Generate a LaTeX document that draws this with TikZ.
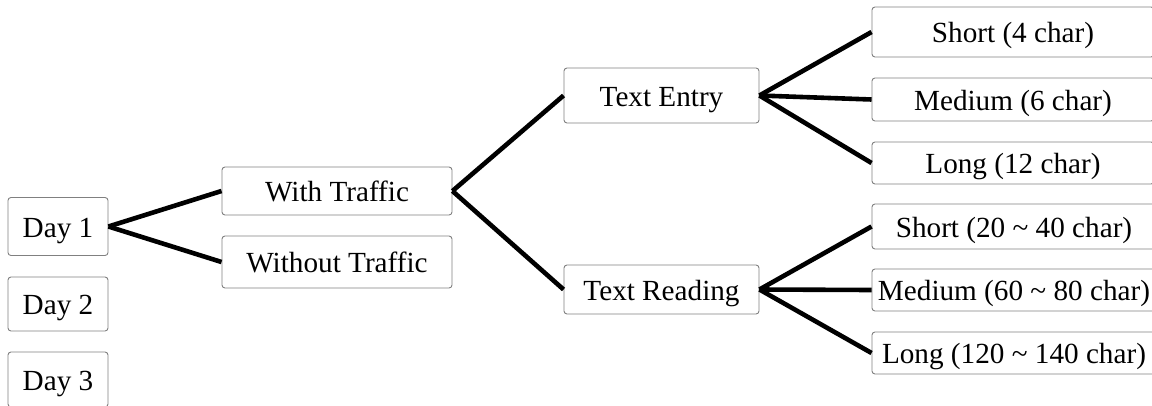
\documentclass[tikz,border=0pt]{standalone}
\usepackage{fontspec}
\setmainfont{Liberation Serif}
\begin{document}
\begin{tikzpicture}[x=1pt,y=-1pt,
  box/.style={draw=black!50, line width=0.9pt, rounded corners=3pt, inner sep=0pt,
    font=\fontsize{29.2}{35}\selectfont, text height=21pt, text depth=0pt, align=center},
  link/.style={line width=4.6pt, black}]
\clip (0,0) rectangle (1152,405);
\node[box, minimum width=100pt, minimum height=58pt] (d1) at (58,226.5) {Day 1};
\node[box, minimum width=100pt, minimum height=54pt] (d2) at (58,304) {Day 2};
\node[box, minimum width=100pt, minimum height=55pt] (d3) at (58,379.5) {Day 3};
\node[box, minimum width=230pt, minimum height=48pt] (wt) at (337,191) {With Traffic};
\node[box, minimum width=230pt, minimum height=52pt] (wo) at (337,262) {Without Traffic};
\node[box, minimum width=195pt, minimum height=55pt] (te) at (661.5,95.5) {Text Entry};
\node[box, minimum width=195pt, minimum height=49pt] (tr) at (661.5,289.5) {Text Reading};
\node[box, minimum width=282pt, minimum height=50pt] (s4) at (1013,32) {Short (4 char)};
\node[box, minimum width=282pt, minimum height=43pt] (m6) at (1013,99.5) {Medium (6 char)};
\node[box, minimum width=282pt, minimum height=42pt] (l12) at (1013,163) {Long (12 char)};
\node[box, minimum width=284pt, minimum height=45pt] (s20) at (1014,226.5) {Short (20 \textasciitilde\ 40 char)};
\node[box, minimum width=284pt, minimum height=42pt] (m60) at (1014,290) {Medium (60 \textasciitilde\ 80 char)};
\node[box, minimum width=284pt, minimum height=42pt] (l120) at (1014,353) {Long (120 \textasciitilde\ 140 char)};
\draw[link] (d1.east) -- (wt.west);
\draw[link] (d1.east) -- (wo.west);
\draw[link] (wt.east) -- (te.west);
\draw[link] (wt.east) -- (tr.west);
\draw[link] (te.east) -- (s4.west);
\draw[link] (te.east) -- (m6.west);
\draw[link] (te.east) -- (l12.west);
\draw[link] (tr.east) -- (s20.west);
\draw[link] (tr.east) -- (m60.west);
\draw[link] (tr.east) -- (l120.west);
\end{tikzpicture}
\end{document}
